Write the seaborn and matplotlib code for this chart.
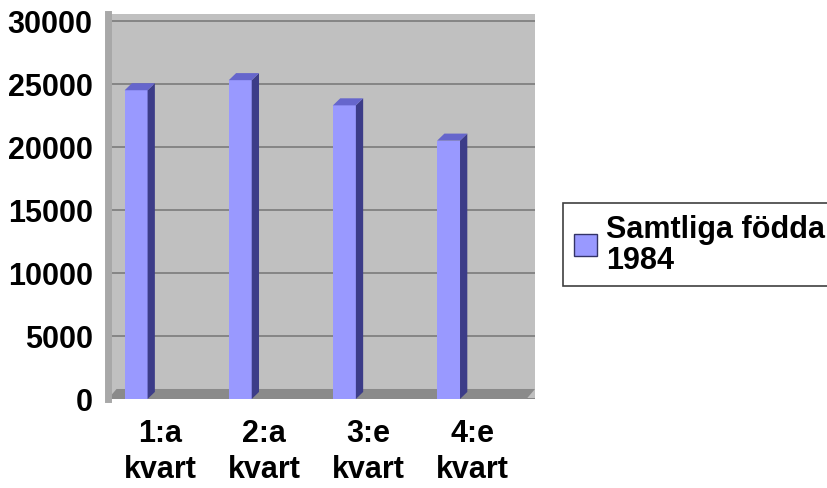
import matplotlib
matplotlib.use("Agg")
import matplotlib.pyplot as plt
from matplotlib.patches import Polygon
import pandas as pd
import seaborn as sns

# data
quarters = ["1:a\nkvart", "2:a\nkvart", "3:e\nkvart", "4:e\nkvart"]
births = [24500, 25300, 23300, 20500]
series_name = "Samtliga födda\n1984"
yticks = [0, 5000, 10000, 15000, 20000, 25000, 30000]

FRONT = "#9999ff"
SIDE = "#3c3c88"
TOP = "#6666cc"
WALL = "#c0c0c0"
FLOOR = "#8a8a8a"

sns.set_style("white")
plt.rcParams["font.family"] = ["Liberation Sans", "DejaVu Sans"]
plt.rcParams["font.weight"] = "bold"
plt.rcParams["text.color"] = "black"
plt.rcParams["xtick.color"] = "black"
plt.rcParams["ytick.color"] = "black"

df = pd.DataFrame({"quarter": quarters, "births": births})

fig = plt.figure(figsize=(8.27, 4.89), dpi=100)
ax = fig.add_axes([108 / 827, 89 / 489, 427 / 827, 385 / 489])
ax.set_facecolor(WALL)

sns.barplot(data=df, x="quarter", y="births", color=FRONT, width=0.22,
            saturation=1, edgecolor=FRONT, linewidth=0, ax=ax, zorder=3)

ax.set_ylim(0, 30550)
ax.set_xlim(-0.5, 3.6)
ax.set_yticks(yticks)
ax.set_yticklabels([str(v) for v in yticks])
ax.yaxis.grid(True, color="#808080", linewidth=1.3, zorder=0)
ax.set_axisbelow(True)
ax.set_xlabel("")
ax.set_ylabel("")

# floor strip of the 3D wall
floor = Polygon([(0.0, 0.0), (0.98, 0.0), (1.0, 0.026), (0.02, 0.026)],
                closed=True, transform=ax.transAxes, facecolor=FLOOR,
                edgecolor="none", zorder=1)
ax.add_patch(floor)

# shift bars to the front-left and add depth faces
dx, dy = 0.07, 560
for p in list(ax.patches):
    if p is floor:
        continue
    p.set_x(p.get_x() - 0.23)
    x0 = p.get_x()
    x1 = x0 + p.get_width()
    h = p.get_height()
    ax.add_patch(Polygon([(x1, 0), (x1 + dx, dy), (x1 + dx, h + dy), (x1, h)],
                         closed=True, facecolor=SIDE, edgecolor="none", zorder=3))
    ax.add_patch(Polygon([(x0, h), (x0 + dx, h + dy), (x1 + dx, h + dy), (x1, h)],
                         closed=True, facecolor=TOP, edgecolor="none", zorder=3))

for s in ["top", "right", "bottom"]:
    ax.spines[s].set_visible(False)
ax.spines["left"].set_color("#a8a8a8")
ax.spines["left"].set_linewidth(5)

ax.tick_params(axis="y", length=6, width=1, color="#a0a0a0", labelcolor="black",
               labelsize=22, pad=5)
ax.tick_params(axis="x", length=0, labelcolor="black", labelsize=22, pad=14)
for lab in ax.get_xticklabels() + ax.get_yticklabels():
    lab.set_fontweight("bold")
for lab in ax.get_xticklabels():
    lab.set_linespacing(1.22)

handle = plt.Rectangle((0, 0), 1, 1, facecolor=FRONT, edgecolor="#333366")
leg = fig.legend([handle], [series_name], loc="upper left",
                 bbox_to_anchor=(563 / 827, 1 - 204 / 489), frameon=True,
                 fancybox=False, framealpha=1, edgecolor="#404040",
                 prop={"size": 22, "weight": "bold"}, handlelength=0.75,
                 handleheight=0.75, handletextpad=0.3, borderpad=0.35,
                 borderaxespad=0, labelspacing=0.2)
leg.get_frame().set_linewidth(1.2)
for t in leg.get_texts():
    t.set_color("black")
    t.set_linespacing(1.05)

fig.savefig("out.png", dpi=100)
